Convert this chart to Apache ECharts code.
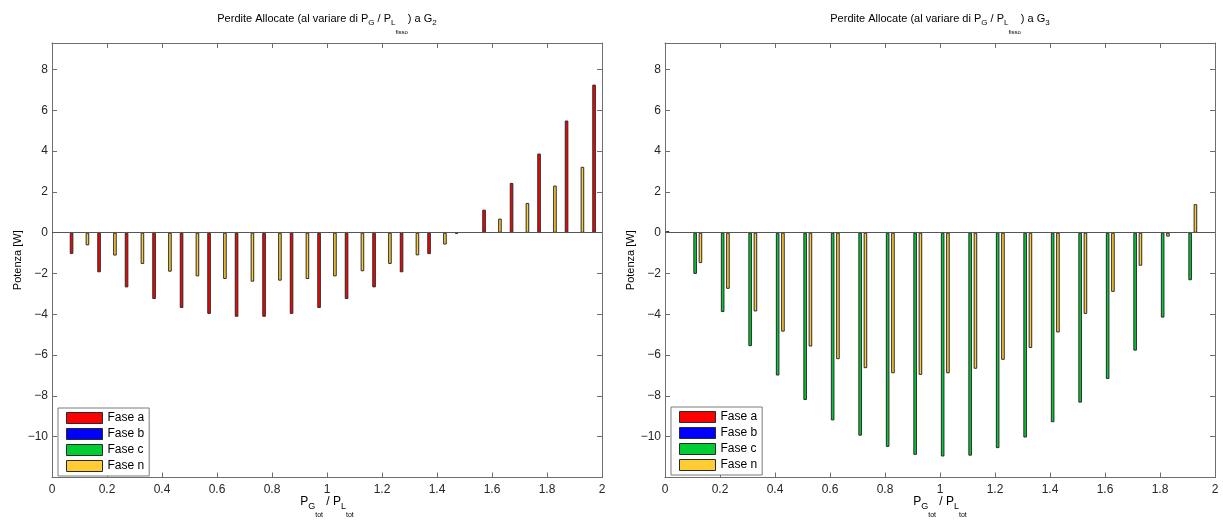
<!DOCTYPE html>
<html>
<head>
<meta charset="utf-8">
<script src="https://cdn.jsdelivr.net/npm/echarts@6/dist/echarts.min.js"></script>
<style>
html,body{margin:0;padding:0;background:#ffffff;}
#chart{width:1223px;height:520px;}
</style>
</head>
<body>
<div id="chart"></div>
<script>
// ---- data ----
const xValues = [0, 0.1, 0.2, 0.3, 0.4, 0.5, 0.6, 0.7, 0.8, 0.9, 1.0, 1.1, 1.2, 1.3, 1.4, 1.5, 1.6, 1.7, 1.8, 1.9, 2.0];
const seriesNames = ['Fase a', 'Fase b', 'Fase c', 'Fase n'];
const yTickLabels = [-10, -8, -6, -4, -2, 0, 2, 4, 6, 8];

// G2 panel
const g2FaseA = [0, -1.04, -1.94, -2.68, -3.25, -3.69, -3.98, -4.12, -4.12, -3.98, -3.69, -3.25, -2.68, -1.94, -1.05, -0.05, 1.13, 2.44, 3.88, 5.50, 7.26];
const g2FaseB = [0, 0, 0, 0, 0, 0, 0, 0, 0, 0, 0, 0, 0, 0, 0, 0, 0, 0, 0, 0, 0];
const g2FaseC = [0, 0, 0, 0, 0, 0, 0, 0, 0, 0, 0, 0, 0, 0, 0, 0, 0, 0, 0, 0, 0];
const g2FaseN = [0, -0.62, -1.12, -1.53, -1.91, -2.14, -2.27, -2.40, -2.35, -2.27, -2.14, -1.89, -1.53, -1.11, -0.58, 0.02, 0.69, 1.46, 2.31, 3.23, null];

// G3 panel
const g3FaseA = [0, 0, 0, 0, 0, 0, 0, 0, 0, 0, 0, 0, 0, 0, 0, 0, 0, 0, 0, 0, null];
const g3FaseB = [0, 0, 0, 0, 0, 0, 0, 0, 0, 0, 0, 0, 0, 0, 0, 0, 0, 0, 0, 0, null];
const g3FaseC = [0.08, -2.02, -3.89, -5.56, -7.00, -8.20, -9.20, -9.95, -10.50, -10.89, -10.97, -10.93, -10.56, -10.04, -9.29, -8.33, -7.17, -5.78, -4.16, -2.33, null];
const g3FaseN = [0, -1.49, -2.75, -3.86, -4.85, -5.58, -6.20, -6.64, -6.89, -6.97, -6.89, -6.67, -6.23, -5.65, -4.89, -3.98, -2.90, -1.62, -0.19, 1.40, null];

// ---- styles ----
const FONT = '"Liberation Sans", Arial, Helvetica, sans-serif';
const colors = ['#ff0000', '#0000ff', '#00cc33', '#ffcc33'];
const axisColor = '#6e6e6e';
const textColor = '#262626';

function pairs(arr) {
  const out = [];
  arr.forEach((v, i) => {
    if (v === null) return;
    if (v === 0) out.push({ value: [xValues[i], v], itemStyle: { borderWidth: 0 } });
    else out.push([xValues[i], v]);
  });
  return out;
}

// rich text with sub / sub-sub scripts (all centred, shifted down by top padding)
const titleRich = {
  m: { fontSize: 11, fontFamily: FONT, color: '#000', lineHeight: 36, verticalAlign: 'middle' },
  s: { fontSize: 8, fontFamily: FONT, color: '#000', verticalAlign: 'middle', padding: [8, 0, 0, 0] },
  ss: { fontSize: 6, fontFamily: FONT, color: '#000', verticalAlign: 'middle', padding: [26, 0, 0, 0] }
};
const xNameRich = {
  m: { fontSize: 12, fontFamily: FONT, color: '#000', lineHeight: 36, verticalAlign: 'middle' },
  s: { fontSize: 9, fontFamily: FONT, color: '#000', verticalAlign: 'middle', padding: [10, 0, 0, 0] },
  ss: { fontSize: 7, fontFamily: FONT, color: '#000', verticalAlign: 'middle', padding: [28, 0, 0, 0] }
};

function yLabelFormatter(v) {
  const hit = yTickLabels.some(t => Math.abs(t - v) < 1e-9);
  return hit ? String(v).replace('-', '\u2212') : '';
}

function bottomX(gridIndex) {
  return {
    type: 'value', gridIndex: gridIndex, position: 'bottom',
    min: 0, max: 2, interval: 0.2,
    axisLine: { show: true, onZero: false, lineStyle: { color: axisColor, width: 1 } },
    axisTick: { show: true, inside: true, length: 5, lineStyle: { color: axisColor } },
    axisLabel: { show: true, margin: 6, color: textColor, fontSize: 12, fontFamily: FONT },
    splitLine: { show: false },
    name: '{m|P}{s|G}{ss|tot}{m| / P}{s|L}{ss|tot}',
    nameLocation: 'middle', nameGap: 6, nameMoveOverlap: false,
    nameTextStyle: { rich: xNameRich, fontFamily: FONT }
  };
}
function topX(gridIndex, title) {
  return {
    type: 'value', gridIndex: gridIndex, position: 'top',
    min: 0, max: 2, interval: 0.2,
    axisLine: { show: true, onZero: false, lineStyle: { color: axisColor, width: 1 } },
    axisTick: { show: true, inside: true, length: 5, lineStyle: { color: axisColor } },
    axisLabel: { show: false },
    splitLine: { show: false },
    name: title, nameLocation: 'middle', nameGap: 6, nameMoveOverlap: false,
    nameTextStyle: { rich: titleRich, fontFamily: FONT }
  };
}
function leftY(gridIndex) {
  return {
    type: 'value', gridIndex: gridIndex, position: 'left',
    min: -12, max: 9.3, interval: 2,
    axisLine: { show: true, onZero: false, lineStyle: { color: axisColor, width: 1 } },
    axisTick: { show: true, inside: true, length: 5, lineStyle: { color: axisColor } },
    axisLabel: { show: true, margin: 4, color: textColor, fontSize: 12, fontFamily: FONT, formatter: yLabelFormatter },
    splitLine: { show: false },
    name: 'Potenza [W]', nameLocation: 'middle', nameGap: 29,
    nameTextStyle: { fontSize: 11, color: '#000', fontFamily: FONT }
  };
}
function rightY(gridIndex) {
  return {
    type: 'value', gridIndex: gridIndex, position: 'right',
    min: -12, max: 9.3, interval: 2,
    axisLine: { show: true, onZero: false, lineStyle: { color: axisColor, width: 1 } },
    axisTick: { show: true, inside: true, length: 5, lineStyle: { color: axisColor } },
    axisLabel: { show: false },
    splitLine: { show: false }
  };
}

function barSeries(name, colorIdx, data, xIdx, yIdx, withBaseline) {
  const s = {
    type: 'bar', name: name,
    xAxisIndex: xIdx, yAxisIndex: yIdx,
    data: pairs(data),
    barWidth: '13%', barGap: '48%',
    clip: true,
    itemStyle: { color: colors[colorIdx], borderColor: '#2a2a2a', borderWidth: 1 },
    emphasis: { disabled: true },
    animation: false
  };
  if (withBaseline) {
    s.markLine = {
      silent: true, symbol: ['none', 'none'], animation: false,
      label: { show: false },
      lineStyle: { color: '#555555', width: 1, type: 'solid' },
      emphasis: { disabled: true },
      data: [{ yAxis: 0 }]
    };
  }
  return s;
}

function legendAt(left, top) {
  return {
    data: seriesNames, orient: 'vertical', left: left, top: top,
    icon: 'rect', itemWidth: 36, itemHeight: 11, itemGap: 4,
    padding: [4, 5, 4, 8],
    backgroundColor: '#ffffff', borderColor: '#7a7a7a', borderWidth: 1,
    itemStyle: { borderColor: '#2a2a2a', borderWidth: 1 },
    textStyle: { fontSize: 12, color: '#000', fontFamily: FONT },
    selectedMode: false
  };
}

const chart = echarts.init(document.getElementById('chart'), null, { renderer: 'canvas' });
chart.setOption({
  animation: false,
  backgroundColor: '#ffffff',
  textStyle: { fontFamily: FONT },
  grid: [
    { left: 52, top: 43, width: 550, height: 434.5, containLabel: false, outerBoundsMode: 'none' },
    { left: 665, top: 43, width: 550, height: 434.5, containLabel: false, outerBoundsMode: 'none' }
  ],
  xAxis: [
    bottomX(0),
    topX(0, '{m|Perdite Allocate (al variare di P}{s|G}{m| / P}{s|L}{ss|fisso}{m|) a G}{s|2}'),
    bottomX(1),
    topX(1, '{m|Perdite Allocate (al variare di P}{s|G}{m| / P}{s|L}{ss|fisso}{m|) a G}{s|3}')
  ],
  yAxis: [leftY(0), rightY(0), leftY(1), rightY(1)],
  legend: [legendAt(58, 408), legendAt(671, 407)],
  series: [
    barSeries('Fase a', 0, g2FaseA, 0, 0, false),
    barSeries('Fase b', 1, g2FaseB, 0, 0, false),
    barSeries('Fase c', 2, g2FaseC, 0, 0, false),
    barSeries('Fase n', 3, g2FaseN, 0, 0, true),
    barSeries('Fase a', 0, g3FaseA, 2, 2, false),
    barSeries('Fase b', 1, g3FaseB, 2, 2, false),
    barSeries('Fase c', 2, g3FaseC, 2, 2, false),
    barSeries('Fase n', 3, g3FaseN, 2, 2, true)
  ]
});
</script>
</body>
</html>
